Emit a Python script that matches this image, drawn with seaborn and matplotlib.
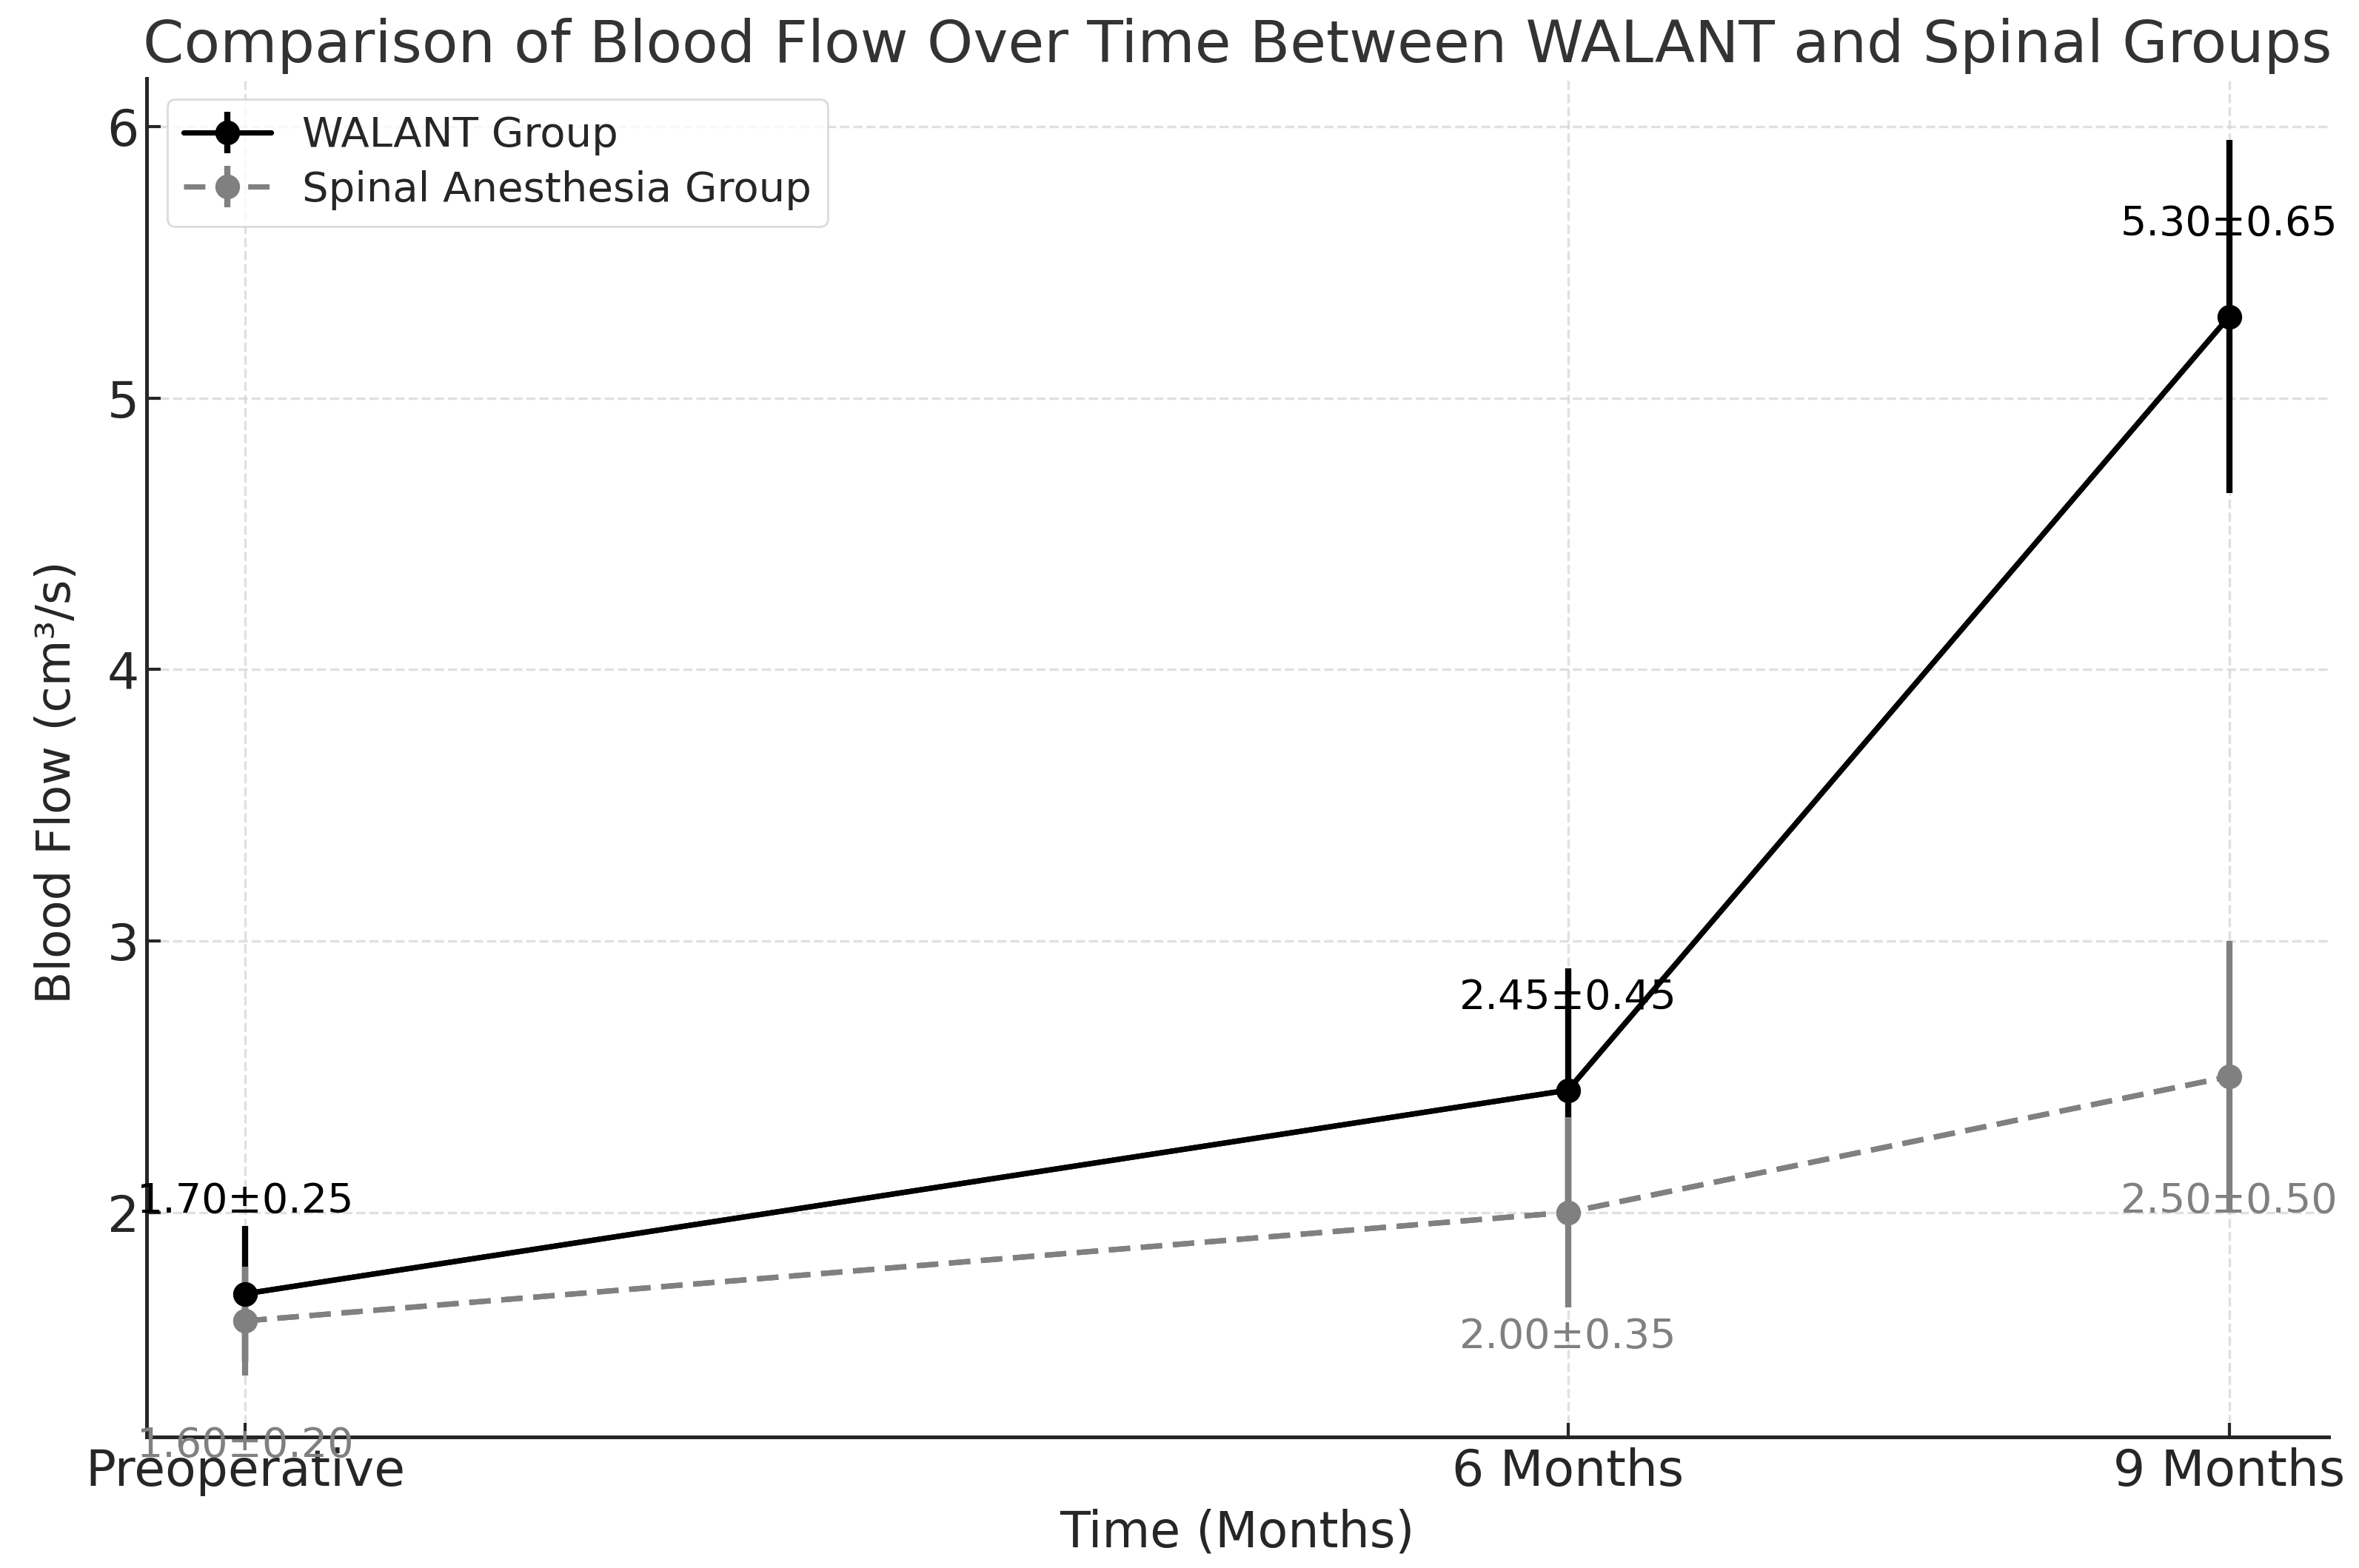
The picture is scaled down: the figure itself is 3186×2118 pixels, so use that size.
import matplotlib
matplotlib.use("Agg")
import matplotlib.pyplot as plt
import seaborn as sns
import numpy as np
import pandas as pd

time_points = [0, 6, 9]
time_labels = ["Preoperative", "6 Months", "9 Months"]
walant_mean = [1.70, 2.45, 5.30]
walant_sd = [0.25, 0.45, 0.65]
spinal_mean = [1.60, 2.00, 2.50]
spinal_sd = [0.20, 0.35, 0.50]

sns.set_style("ticks")
plt.rcParams['font.family'] = ['DejaVu Sans']

fig, ax = plt.subplots(figsize=(15.93, 10.59), dpi=200)
fig.subplots_adjust(left=0.062, right=0.987, top=0.95, bottom=0.0836)

df = pd.DataFrame({
    "time": time_points * 2,
    "flow": walant_mean + spinal_mean,
    "group": ["WALANT Group"] * 3 + ["Spinal Anesthesia Group"] * 3,
})

palette = {"WALANT Group": "black", "Spinal Anesthesia Group": "gray"}
sns.lineplot(data=df, x="time", y="flow", hue="group", style="group",
             dashes={"WALANT Group": "", "Spinal Anesthesia Group": (4, 2)},
             palette=palette, marker="o", markersize=11, markeredgewidth=0,
             linewidth=2.6, legend=False, ax=ax)

ax.errorbar(time_points, walant_mean, yerr=walant_sd, fmt='o', linestyle='-',
            color='black', linewidth=2.6, elinewidth=3, markersize=11,
            label="WALANT Group")
ax.errorbar(time_points, spinal_mean, yerr=spinal_sd, fmt='o', linestyle='--',
            dashes=(4, 2), color='gray', linewidth=2.6, elinewidth=3,
            markersize=11, label="Spinal Anesthesia Group")

for x, m, s in zip(time_points, walant_mean, walant_sd):
    ax.text(x, m + 0.34, f"{m:.2f}±{s:.2f}", ha='center', va='center',
            fontsize=20, color='black')
for x, m, s in zip(time_points, spinal_mean, spinal_sd):
    ax.text(x, m - 0.46, f"{m:.2f}±{s:.2f}", ha='center', va='center',
            fontsize=20, color='gray')

ax.set_xticks(time_points)
ax.set_xticklabels(time_labels)
ax.tick_params(axis='both', labelsize=24.5, direction='in', length=7, width=1.5,
               colors='.15')
ax.tick_params(axis='x', pad=5)
ax.set_xlabel("Time (Months)", fontsize=24, color='.15', labelpad=6)
ax.set_ylabel("Blood Flow (cm³/s)", fontsize=23.2, color='.15', labelpad=13,
              y=0.482)
ax.set_title("Comparison of Blood Flow Over Time Between WALANT and Spinal Groups",
             fontsize=28.6, color='.2', pad=8)
ax.grid(True, linestyle='--', color='lightgray', alpha=0.7, linewidth=1.2)
sns.despine(ax=ax)
for sp in ["left", "bottom"]:
    ax.spines[sp].set_linewidth(1.8)
    ax.spines[sp].set_color('.15')

leg = ax.legend(loc='upper left', fontsize=20.2, frameon=True, handlelength=2.1,
                handletextpad=0.75, labelspacing=0.35)
leg.get_frame().set_edgecolor('lightgray')

fig.savefig("out.png", dpi=200)
